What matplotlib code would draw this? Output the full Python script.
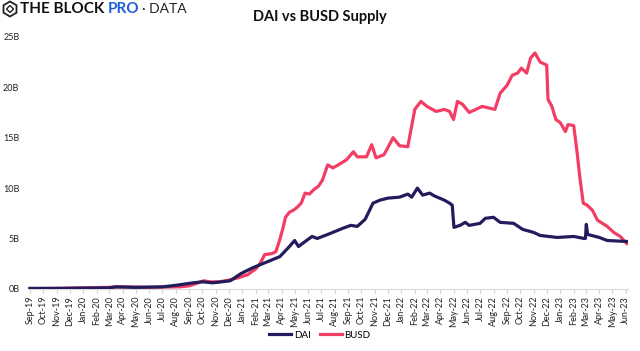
import matplotlib
matplotlib.use('Agg')
import matplotlib.pyplot as plt
import matplotlib.dates as mdates
from matplotlib.patches import RegularPolygon
import pandas as pd

plt.rcParams['font.family'] = ['Lato', 'DejaVu Sans']

# supply in billions
busd_dates = ["2019-09-01", "2019-11-01", "2020-01-01", "2020-03-01", "2020-04-01",
              "2020-06-01", "2020-08-01", "2020-08-10", "2020-09-01", "2020-09-15",
              "2020-10-04", "2020-10-18", "2020-11-10", "2020-12-04", "2020-12-22",
              "2021-01-13", "2021-02-01", "2021-02-12", "2021-02-21", "2021-03-10",
              "2021-03-19", "2021-03-28", "2021-04-04", "2021-04-10", "2021-04-19",
              "2021-04-28", "2021-05-07", "2021-05-16", "2021-05-25", "2021-06-04",
              "2021-06-13", "2021-06-25", "2021-07-04", "2021-07-16", "2021-07-28",
              "2021-08-13", "2021-08-28", "2021-09-13", "2021-09-22", "2021-10-13",
              "2021-10-25", "2021-11-04", "2021-11-22", "2021-12-01", "2021-12-13",
              "2021-12-28", "2022-01-16", "2022-01-22", "2022-02-01", "2022-02-15",
              "2022-03-01", "2022-03-22", "2022-04-10", "2022-04-22", "2022-05-01",
              "2022-05-10", "2022-05-22", "2022-06-06", "2022-06-21", "2022-07-06",
              "2022-08-04", "2022-08-16", "2022-09-01", "2022-09-13", "2022-09-25",
              "2022-10-04", "2022-10-16", "2022-10-25", "2022-11-04", "2022-11-16",
              "2022-12-01", "2022-12-04", "2022-12-13", "2022-12-22", "2023-01-01",
              "2023-01-13", "2023-01-19", "2023-02-01", "2023-02-09", "2023-02-15",
              "2023-02-23", "2023-03-04", "2023-03-16", "2023-03-28", "2023-04-19",
              "2023-05-04", "2023-05-19", "2023-06-03"]
busd = [0.02, 0.05, 0.1, 0.15, 0.2,
        0.15, 0.2, 0.2, 0.3, 0.5,
        0.8, 0.7, 0.7, 0.9, 1.1,
        1.4, 2.0, 2.6, 3.4, 3.5,
        3.7, 4.9, 6.0, 7.1, 7.6,
        7.8, 8.1, 8.5, 9.5, 9.4,
        9.8, 10.2, 10.8, 12.3, 12.0,
        12.4, 12.8, 13.6, 13.1, 13.1,
        14.3, 13.0, 13.3, 14.0, 15.0,
        14.2, 14.1, 15.5, 17.8, 18.6,
        18.1, 17.6, 17.8, 17.6, 16.8,
        18.6, 18.3, 17.5, 17.8, 18.1,
        17.8, 19.4, 20.2, 21.2, 21.4,
        21.9, 21.4, 22.9, 23.4, 22.5,
        22.2, 18.8, 18.1, 16.8, 16.5,
        15.6, 16.3, 16.2, 13.5, 11.1,
        8.5, 8.3, 7.8, 6.8, 6.2,
        5.6, 5.2, 4.5]

dai_dates = ["2019-09-01", "2019-11-15", "2020-01-01", "2020-03-01", "2020-03-15",
             "2020-05-01", "2020-07-01", "2020-08-01", "2020-09-10", "2020-10-01",
             "2020-10-25", "2020-12-04", "2020-12-28", "2021-01-25", "2021-02-28",
             "2021-03-28", "2021-04-19", "2021-05-01", "2021-05-10", "2021-05-19",
             "2021-06-10", "2021-06-22", "2021-07-22", "2021-08-19", "2021-09-07",
             "2021-09-22", "2021-10-10", "2021-10-28", "2021-11-13", "2021-12-01",
             "2021-12-28", "2022-01-16", "2022-01-25", "2022-02-07", "2022-02-19",
             "2022-03-07", "2022-03-19", "2022-04-10", "2022-04-22", "2022-04-28",
             "2022-05-02", "2022-05-16", "2022-05-28", "2022-06-06", "2022-07-01",
             "2022-07-13", "2022-08-01", "2022-08-16", "2022-09-16", "2022-10-07",
             "2022-11-01", "2022-11-16", "2022-12-25", "2023-02-01", "2023-02-25",
             "2023-02-28", "2023-03-02", "2023-03-05", "2023-04-01", "2023-04-19",
             "2023-06-03"]
dai = [0.05, 0.05, 0.08, 0.1, 0.2,
       0.15, 0.2, 0.35, 0.6, 0.7,
       0.6, 0.8, 1.5, 2.1, 2.7,
       3.2, 4.2, 4.8, 4.2, 4.5,
       5.2, 5.0, 5.5, 6.0, 6.3,
       6.2, 6.9, 8.5, 8.8, 9.0,
       9.1, 9.4, 9.1, 10.0, 9.3,
       9.5, 9.2, 8.8, 8.5, 8.3,
       6.1, 6.3, 6.6, 6.3, 6.5,
       7.0, 7.1, 6.6, 6.5, 5.9,
       5.6, 5.3, 5.1, 5.2, 5.0,
       5.0, 6.4, 5.4, 5.1, 4.8,
       4.7]

dai_color = '#231c5c'
busd_color = '#f23d64'

fig = plt.figure(figsize=(6.4, 3.51), dpi=100)
ax = fig.add_axes([0.0434, 0.177, 0.938, 0.718])

ax.plot(pd.to_datetime(dai_dates), dai, color=dai_color, lw=2.3, label='DAI', zorder=3)
ax.plot(pd.to_datetime(busd_dates), busd, color=busd_color, lw=2.3, label='BUSD', zorder=2)

ax.set_xlim(pd.Timestamp('2019-08-27'), pd.Timestamp('2023-06-06'))
ax.set_ylim(0, 25)
ax.set_yticks([0, 5, 10, 15, 20, 25])
ax.set_yticklabels(['0B', '5B', '10B', '15B', '20B', '25B'])

ax.xaxis.set_major_locator(mdates.MonthLocator())
ax.xaxis.set_major_formatter(mdates.DateFormatter('%b-%y'))
plt.setp(ax.get_xticklabels(), rotation=90)

for s in ['top', 'right', 'left']:
    ax.spines[s].set_visible(False)
ax.spines['bottom'].set_color('#d9d9d9')
ax.tick_params(axis='x', colors='#d0d0d0', length=3, labelsize=6.5, labelcolor='#222222', pad=2)
ax.tick_params(axis='y', length=0, labelsize=6.5, labelcolor='#222222', pad=6)

fig.text(0.5, 0.952, 'DAI vs BUSD Supply', ha='center', va='center',
         fontsize=10.5, fontweight='bold', color='#111111')

# logo: hexagon icon + three text pieces placed one after another
fig.patches.append(RegularPolygon((0.10, 3.42), 6, radius=0.075, transform=fig.dpi_scale_trans,
                                  fill=False, ec='#222222', lw=1.3, figure=fig))
fig.patches.append(RegularPolygon((0.10, 3.42), 4, radius=0.035, transform=fig.dpi_scale_trans,
                                  fill=False, ec='#222222', lw=1.0, figure=fig))
renderer = fig.canvas.get_renderer()
t1 = fig.text(0.031, 0.973, 'THE BLOCK', ha='left', va='center', fontsize=11,
              fontweight='bold', color='#111111')
ext = t1.get_window_extent(renderer)
t2 = fig.text((ext.x1 + 4) / fig.bbox.width, 0.973, 'PRO', ha='left', va='center',
              fontsize=11, fontweight='bold', color='#1d5fd6')
ext = t2.get_window_extent(renderer)
fig.text((ext.x1 + 2) / fig.bbox.width, 0.973, '\u00b7 DATA', ha='left', va='center',
         fontsize=10, color='#222222')

fig.legend(loc='center', bbox_to_anchor=(0.5, 0.045), ncol=2, frameon=False,
           fontsize=7, handlelength=2.2, handletextpad=0.3, columnspacing=1.0)

fig.savefig('out.png', dpi=100)
